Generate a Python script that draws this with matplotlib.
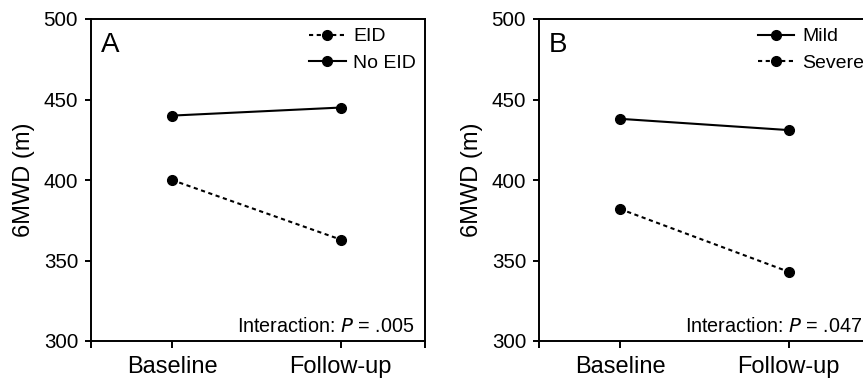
import matplotlib
matplotlib.use("Agg")
import matplotlib.pyplot as plt

plt.rcParams['font.family'] = ['Liberation Sans', 'DejaVu Sans']

# time points
timepoints = ["Baseline", "Follow-up"]

# panel A: exercise-induced desaturation
eid = [400, 363]
no_eid = [440, 445]
p_a = ".005"

# panel B: disease severity
mild = [438, 431]
severe = [382, 343]
p_b = ".047"

yticks = [300, 350, 400, 450, 500]

fig = plt.figure(figsize=(8.63, 3.83), dpi=100)
ax_a = fig.add_axes([91 / 863, 42 / 383, 334 / 863, 322 / 383])
ax_b = fig.add_axes([539 / 863, 42 / 383, 334 / 863, 322 / 383])

lw = 1.5
dash = (0, (2.0, 1.7))
mk = dict(marker='o', markersize=7, color='black', linewidth=lw)


def style(ax, letter, p):
    ax.set_xlim(-0.48, 1.5)
    ax.set_ylim(300, 500)
    ax.set_yticks(yticks)
    ax.set_xticks([-0.48, 0, 1, 1.5])
    ax.set_xticklabels(["", timepoints[0], timepoints[1], ""])
    ax.tick_params(axis='x', labelsize=17, length=5, width=1.4, pad=6)
    ax.tick_params(axis='y', labelsize=14.8, length=4.3, width=1.4, pad=5)
    for s in ax.spines.values():
        s.set_linewidth(1.4)
    ax.set_ylabel("6MWD (m)", fontsize=17, labelpad=6)
    ax.text(0.03, 0.96, letter, transform=ax.transAxes, fontsize=20,
            ha='left', va='top')
    ax.annotate("Interaction: $\\it{P}$ = " + p, xy=(1, 0),
                xycoords='axes fraction', xytext=(-11, 9),
                textcoords='offset pixels', ha='right', va='baseline',
                fontsize=14.2)
    ax.legend(loc='upper right', frameon=False, fontsize=14,
              handlelength=1.9, handletextpad=0.4, labelspacing=0.45,
              borderaxespad=0.2, borderpad=0.25)


ax_a.plot([0, 1], eid, linestyle=dash, label="EID", **mk)
ax_a.plot([0, 1], no_eid, linestyle='-', label="No EID", **mk)
style(ax_a, "A", p_a)

ax_b.plot([0, 1], mild, linestyle='-', label="Mild", **mk)
ax_b.plot([0, 1], severe, linestyle=dash, label="Severe", **mk)
style(ax_b, "B", p_b)

fig.savefig("out.png", dpi=100)
